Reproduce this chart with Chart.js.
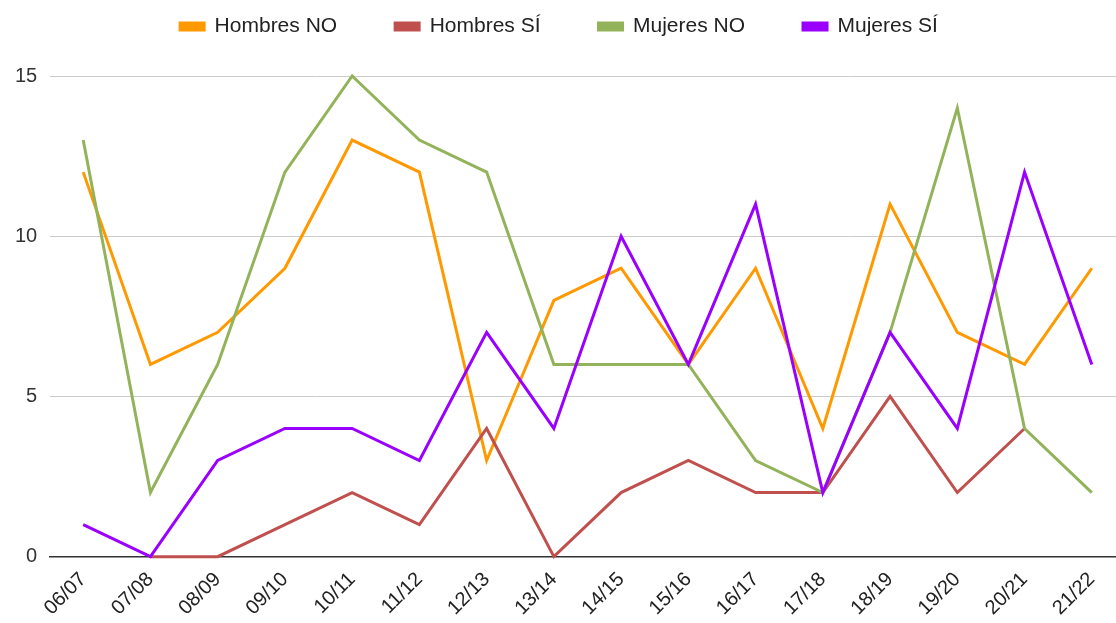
<!DOCTYPE html>
<html>
<head>
<meta charset="utf-8">
<script src="https://cdn.jsdelivr.net/npm/chart.js@4"></script>
<style>
  body { margin: 0; background: #fff; }
</style>
</head>
<body>
<canvas id="chart" width="1116" height="623"></canvas>
<script>
// cursos
const cursos = ['06/07', '07/08', '08/09', '09/10', '10/11', '11/12', '12/13', '13/14',
                '14/15', '15/16', '16/17', '17/18', '18/19', '19/20', '20/21', '21/22'];

const hombresNo = [12, 6, 7, 9, 13, 12, 3, 8, 9, 6, 9, 4, 11, 7, 6, 9];
const hombresSi = [null, 0, 0, 1, 2, 1, 4, 0, 2, 3, 2, 2, 5, 2, 4, null];
const mujeresNo = [13, 2, 6, 12, 15, 13, 12, 6, 6, 6, 3, 2, 7, 14, 4, 2];
const mujeresSi = [1, 0, 3, 4, 4, 3, 7, 4, 10, 6, 11, 2, 7, 4, 12, 6];

const yTicks = [0, 5, 10, 15];

function puntos(arr) {
    return arr.map(function (v, i) { return { x: i, y: v }; });
}

function serie(label, arr, color, order) {
    return {
        label: label,
        data: puntos(arr),
        borderColor: color,
        backgroundColor: color,
        borderWidth: 3,
        pointRadius: 0,
        pointHoverRadius: 0,
        tension: 0,
        spanGaps: false,
        clip: false,
        order: order
    };
}

// altura fija de la leyenda
const legendHeight = {
    id: 'legendHeight',
    beforeInit: function (chart) {
        const fit = chart.legend.fit;
        chart.legend.fit = function () {
            fit.bind(chart.legend)();
            this.height = 118;
        };
    }
};

Chart.defaults.font.family = "'Liberation Sans', Arial, sans-serif";
Chart.defaults.font.size = 20;
Chart.defaults.color = '#333';

const ctx = document.getElementById('chart').getContext('2d');
new Chart(ctx, {
    type: 'line',
    data: {
        datasets: [
            serie('Hombres NO', hombresNo, '#ff9900', 3),
            serie('Hombres SÍ', hombresSi, '#c0504d', 2),
            serie('Mujeres NO', mujeresNo, '#93b35a', 1),
            serie('Mujeres SÍ', mujeresSi, '#9900ff', 0)
        ]
    },
    plugins: [legendHeight],
    options: {
        responsive: false,
        animation: false,
        layout: { padding: { left: 2, right: 0, top: -42, bottom: 0 } },
        plugins: {
            legend: {
                position: 'top',
                labels: {
                    boxWidth: 24,
                    boxHeight: 7,
                    padding: 58,
                    color: '#222',
                    font: { size: 21 },
                    sort: function (a, b) { return a.datasetIndex - b.datasetIndex; }
                }
            },
            tooltip: { enabled: false }
        },
        scales: {
            x: {
                type: 'linear',
                min: -0.49,
                max: 15.36,
                afterBuildTicks: function (axis) {
                    axis.ticks = cursos.map(function (_, i) { return { value: i }; });
                },
                ticks: {
                    minRotation: 45,
                    maxRotation: 45,
                    autoSkip: false,
                    padding: 3,
                    color: '#222',
                    callback: function (v) { return cursos[v]; }
                },
                grid: { display: false },
                border: { color: '#333', width: 1.5 }
            },
            y: {
                min: 0,
                max: 15,
                afterBuildTicks: function (axis) {
                    axis.ticks = yTicks.map(function (v) { return { value: v }; });
                },
                ticks: { padding: 13, color: '#333' },
                grid: { color: '#cccccc', drawTicks: false },
                border: { display: false }
            }
        }
    }
});
</script>
</body>
</html>
